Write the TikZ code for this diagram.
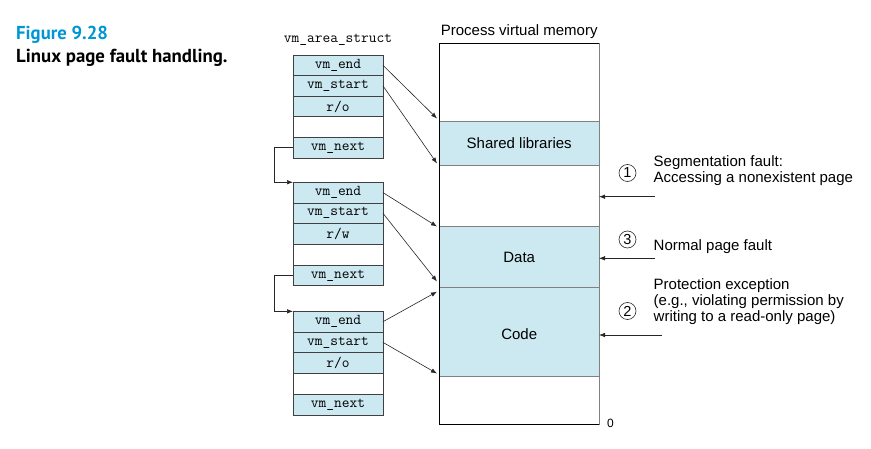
\documentclass[tikz,border=0pt]{standalone}
\usepackage{fontspec}
\setmainfont{Liberation Sans}
\newfontfamily\titlefont{PT Sans}
\usetikzlibrary{arrows.meta}
\definecolor{fillblue}{RGB}{204,232,240}
\definecolor{figblue}{RGB}{0,150,214}
\begin{document}
\begin{tikzpicture}[x=1pt,y=-1pt,
  field/.style={draw=black!75, line width=0.7pt, fill=fillblue, minimum width=90, minimum height=20.7,
    inner sep=0, outer sep=0, font=\ttfamily\fontsize{15}{15}\selectfont},
  blank/.style={field, fill=white},
  seg/.style={draw=black!50, line width=0.7pt, minimum width=159.7, inner sep=0, outer sep=0,
    font=\fontsize{15}{16}\selectfont},
  arr/.style={-{Latex[length=6pt,width=4.5pt]}, line width=0.6pt, draw=black!85},
  note/.style={inner sep=0, align=left, font=\fontsize{15}{16.4}\selectfont},
  num/.style={circle, draw=black!85, line width=0.6pt, inner sep=0, minimum size=17,
    font=\fontsize{14.5}{14.5}\selectfont}]
\useasboundingbox (0,0) rectangle (871,449);

% caption
\node[anchor=base west, inner sep=0, text=figblue, font=\titlefont\bfseries\fontsize{18.7}{18.7}\selectfont] (fig) at (16,39.3) {Figure 9.28};
\node[anchor=base west, inner sep=0, font=\titlefont\bfseries\fontsize{18.8}{18.8}\selectfont] (cap) at (16,62.7) {Linux page fault handling.};

% vm_area_struct label
\node[anchor=base, inner sep=0, font=\ttfamily\fontsize{15}{15}\selectfont] (lbl) at (338,42.3) {vm\_area\_struct};

% struct 1
\node[field] (a1) at (338,65.3) {vm\_end};
\node[field] (a2) at (338,85.9) {vm\_start};
\node[field] (a3) at (338,106.5) {r/o};
\node[blank] (a4) at (338,127.1) {};
\node[field] (a5) at (338,147.7) {vm\_next};
% struct 2
\node[field] (b1) at (338,192.6) {vm\_end};
\node[field] (b2) at (338,213.3) {vm\_start};
\node[field] (b3) at (338,234.0) {r/w};
\node[blank] (b4) at (338,254.7) {};
\node[field] (b5) at (338,275.4) {vm\_next};
% struct 3
\node[field] (c1) at (338,321.7) {vm\_end};
\node[field] (c2) at (338,342.4) {vm\_start};
\node[field] (c3) at (338,363.1) {r/o};
\node[blank] (c4) at (338,383.9) {};
\node[field] (c5) at (338,404.6) {vm\_next};

% process virtual memory
\node[anchor=base, inner sep=0, font=\fontsize{15}{15}\selectfont] (pvm) at (519.2,35.7) {Process virtual memory};
\node[seg, minimum height=78.4, fill=white] (m1) at (519.2,82.5) {};
\node[seg, minimum height=43.6, fill=fillblue] (m2) at (519.2,143.5) {Shared libraries};
\node[seg, minimum height=61.4, fill=white] (m3) at (519.2,196.0) {};
\node[seg, minimum height=61.0, fill=fillblue] (m4) at (519.2,257.2) {Data};
\node[seg, minimum height=88.3, fill=fillblue] (m5) at (519.2,331.85) {};
\node[seg, minimum height=48.3, fill=white] (m6) at (519.2,400.15) {};
\node[inner sep=0, font=\fontsize{15}{15}\selectfont] (codelbl) at (519.2,333.8) {Code};
\draw[line width=0.8pt] (m6.south east) -- (m6.south west) -- (m1.north west) -- (m1.north east);
\node[inner sep=0, font=\fontsize{12}{12}\selectfont] (zero) at (610.5,423.3) {0};

% targets on memory left edge
\coordinate (t1) at (437,118.5);
\coordinate (t2) at (437,163.5);
\coordinate (t3) at (437,226.5);
\coordinate (t4) at (437,281.5);
\coordinate (t5) at (437,291.7);
\coordinate (t6) at (437,373.5);

\draw[arr] (a1.east) -- (t1);
\draw[arr] (a2.east) -- (t2);
\draw[arr] (b1.east) -- (t3);
\draw[arr] (b2.east) -- (t4);
\draw[arr] (c1.east) -- (t5);
\draw[arr] (c2.east) -- (t6);

% next links
\draw[arr] (a5.west) -- ++(-19,0) |- (b1.north west);
\draw[arr] (b5.west) -- ++(-19,0) |- (c1.north west);

% fault annotations
\node[num] (n1) at (627.5,173) {1};
\node[num] (n3) at (627.5,239.5) {3};
\node[num] (n2) at (627.5,311) {2};
\node[note, anchor=north west] (seg1) at (653.5,155) {Segmentation fault:\\Accessing a nonexistent page};
\node[note, anchor=base west] (npf) at (653.5,251) {Normal page fault};
\node[note, anchor=north west] (prot) at (653.5,278) {Protection exception\\(e.g., violating permission by\\writing to a read-only page)};

\coordinate (f1) at (655,196.7);
\coordinate (f3) at (655,258.3);
\coordinate (f2) at (661.7,335);
\draw[arr] (f1) -- (f1 -| m3.east);
\draw[arr] (f3) -- (f3 -| m4.east);
\draw[arr] (f2) -- (f2 -| m5.east);
\end{tikzpicture}
\end{document}
